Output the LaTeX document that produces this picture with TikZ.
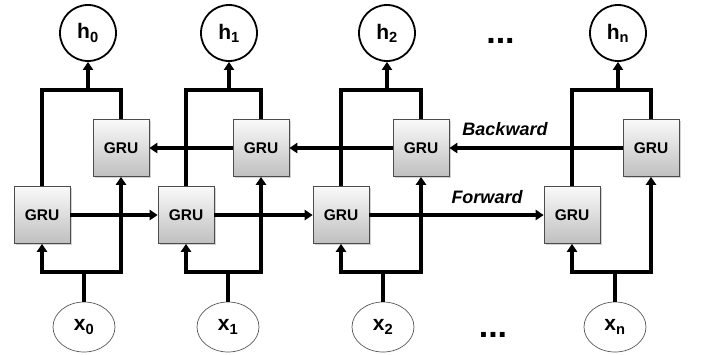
\documentclass[tikz,border=0pt]{standalone}
\usepackage{fontspec}
\setmainfont{Liberation Sans}
\usetikzlibrary{arrows.meta,shapes.geometric,shadows}

\begin{document}
\begin{tikzpicture}[x=1pt, y=-1pt,
  gru/.style={draw=gray!60!black, line width=0.6pt, top color=gray!4, bottom color=gray!50,
    minimum width=56pt, minimum height=57pt, inner sep=0pt,
    font=\fontsize{15.5}{15.5}\selectfont\bfseries,
    drop shadow={shadow xshift=1.5pt, shadow yshift=-1.5pt, opacity=0.35}},
  hid/.style={circle, draw, line width=1.8pt, minimum size=56pt, inner sep=0pt,
    font=\fontsize{21}{21}\selectfont\bfseries},
  inp/.style={ellipse, draw=gray!70!black, line width=0.7pt, minimum width=62pt, minimum height=50pt,
    inner sep=0pt, font=\fontsize{21}{21}\selectfont\bfseries},
  link/.style={line width=3.2pt},
  arr/.style={link, -{Triangle[length=8pt,width=10pt]}},
  lbl/.style={font=\fontsize{18}{18}\selectfont\bfseries\itshape},
  dots/.style={anchor=base, inner sep=0pt, font=\fontsize{34}{34}\selectfont\bfseries}]
  \useasboundingbox (0,0) rectangle (705,354);

  % one column per time step: forward / backward GRU, output h, input x
  \foreach \i/\fx/\bx/\hx/\xx in {0/42/121/88/84, 1/186/261/229/228, 2/341/421/387/383, n/572/651/618/615} {
    \node[gru] (f\i) at (\fx,215) {GRU};
    \node[gru] (b\i) at (\bx,148) {GRU};
    \node[hid] (h\i) at (\hx,33) {h\textsubscript{\i}};
    \node[inp] (x\i) at (\xx,327) {x\textsubscript{\i}};
    \coordinate (t\i) at (\hx,90);
    \coordinate (d\i) at (\xx,272);
    \draw[link] (f\i.north) |- (t\i) -| (b\i.north);
    \draw[arr] (t\i) -- (h\i);
    \draw[arr] (x\i) -- (d\i) -| (f\i);
    \draw[arr] (d\i) -| (b\i);
  }

  \path[arr]
    (f0) edge (f1)
    (f1) edge (f2)
    (f2) edge (fn)
    (bn) edge (b2)
    (b2) edge (b1)
    (b1) edge (b0);

  \node[lbl] (bw) at (505,129) {Backward};
  \node[lbl] (fw) at (487,197) {Forward};
  \node[dots] (dtop) at (500.5,43) {...};
  \node[dots] (dbot) at (493,337) {...};
\end{tikzpicture}
\end{document}
